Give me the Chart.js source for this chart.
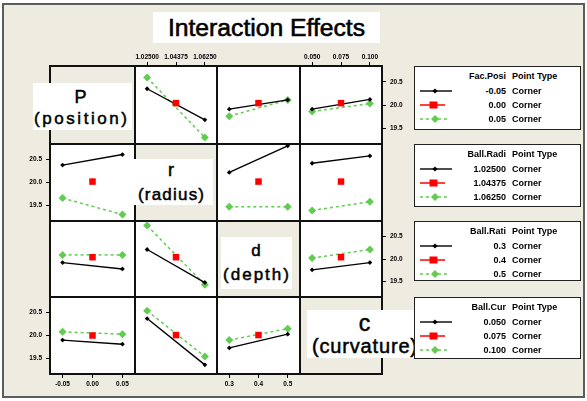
<!DOCTYPE html>
<html>
<head>
<meta charset="utf-8">
<script src="https://cdn.jsdelivr.net/npm/chart.js@4.4.0/dist/chart.umd.min.js"></script>
<style>
  html, body { margin: 0; padding: 0; background: #ffffff; }
  #page { position: relative; width: 587px; height: 401px; overflow: hidden; background: #ffffff; }
  .t { position: absolute; white-space: nowrap; color: #000; }
</style>
</head>
<body>
<div id="page"></div>
<script>
// ---- factor levels (x tick labels / legend entries) ----
const positionLevels  = ['-0.05', '0.00', '0.05'];
const radiusLevels    = ['1.02500', '1.04375', '1.06250'];
const depthLevels     = ['0.3', '0.4', '0.5'];
const curvatureLevels = ['0.050', '0.075', '0.100'];
const yTickValues     = [19.5, 20.0, 20.5];

// ---- mean responses; each row factor traced against column factors P, r, d, c ----
// [value at low level of x-factor, value at high level of x-factor]
const pLowTrace   = [null, [20.35, 19.68], [19.91, 20.11], [19.91, 20.12]];
const pHighTrace  = [null, [20.59, 19.30], [19.76, 20.11], [19.86, 20.03]];
const pCenter     = [null, 20.04, 20.04, 20.04];

const rLowTrace   = [[20.38, 20.61], null, [20.22, 20.80], [20.42, 20.58]];
const rHighTrace  = [[19.66, 19.30], null, [19.47, 19.47], [19.39, 19.58]];
const rCenter     = [20.02, null, 20.02, 20.02];

const dLowTrace   = [[19.92, 19.78], [20.21, 19.48], null, [19.76, 19.92]];
const dHighTrace  = [[20.09, 20.09], [20.74, 19.43], null, [20.02, 20.21]];
const dCenter     = [20.04, 20.04, null, 20.04];

const cLowTrace   = [[19.90, 19.81], [20.37, 19.36], [19.73, 20.03], null];
const cHighTrace  = [[20.08, 20.03], [20.54, 19.54], [19.90, 20.15], null];
const cCenter     = [20.00, 20.01, 20.01, null];

const legendTitles = ['Fac.Posi', 'Ball.Radi', 'Ball.Rati', 'Ball.Cur'];
const pointTypeTitle = 'Point Type';
const pointTypeName = 'Corner';

// ---- layout ----
const page = document.getElementById('page');
const BG = '#EEEBE1';
const BLACK = '#000000', RED = '#ff0000', GREEN = '#62cc52';
const SANS = '"Liberation Sans", Arial, sans-serif';
const colEdges = [50, 135, 217, 300, 382];
const rowEdges = [66, 144, 221, 297, 374];

const levelSets = [positionLevels, radiusLevels, depthLevels, curvatureLevels];
const rows = [
  { low: pLowTrace, high: pHighTrace, center: pCenter },
  { low: rLowTrace, high: rHighTrace, center: rCenter },
  { low: dLowTrace, high: dHighTrace, center: dCenter },
  { low: cLowTrace, high: cHighTrace, center: cCenter }
];

function box(x, y, w, h, style) {
  const d = document.createElement('div');
  d.style.cssText = `position:absolute;left:${x}px;top:${y}px;width:${w}px;height:${h}px;box-sizing:border-box;${style || ''}`;
  page.appendChild(d);
  return d;
}
const mctx = document.createElement('canvas').getContext('2d');
function textWidth(str, font) { mctx.font = font; return mctx.measureText(str).width; }
// place text by its baseline; optional fit stretches with letter spacing
function text(str, x, baseline, size, opts) {
  opts = opts || {};
  const weight = opts.weight || 'normal';
  const font = `${weight} ${size}px ${SANS}`;
  const w = textWidth(str, font);
  let ls = 0, width = w;
  if (opts.fit && str.length > 1) { ls = (opts.fit - w) / (str.length - 1); width = opts.fit; }
  let left = x;
  if (opts.align === 'center') left = x - width / 2;
  if (opts.align === 'right') left = x - width;
  const d = document.createElement('div');
  d.className = 't';
  d.textContent = str;
  d.style.cssText += `left:${left}px;top:${baseline - 0.8465 * size}px;font:${weight} ${size}px ${SANS};line-height:${size}px;letter-spacing:${ls}px;` +
    (opts.stroke ? `-webkit-text-stroke:${opts.stroke}px #000;` : '');
  page.appendChild(d);
  return d;
}

// outer frame
box(2, 3, 583, 395, `border:2px solid #5c5c5c;background:${BG};`);

// title
box(153, 12, 227, 31, 'background:#fff;');
text('Interaction Effects', 266.5, 36.7, 24.7, { align: 'center', stroke: 0.6 });

// panel backgrounds
for (let r = 0; r < 4; r++) for (let c = 0; c < 4; c++) {
  if (r === c) continue;
  box(colEdges[c], rowEdges[r], colEdges[c + 1] - colEdges[c], rowEdges[r + 1] - rowEdges[r], 'background:#fff;');
}
// matrix lines
colEdges.forEach(x => box(x - 1, rowEdges[0] - 1, 2, rowEdges[4] - rowEdges[0] + 2, 'background:#111;'));
rowEdges.forEach(y => box(colEdges[0] - 1, y - 1, colEdges[4] - colEdges[0] + 2, 2, 'background:#111;'));

// ---- interaction panels ----
const M = 40;
const TICK_FONT = { family: SANS, size: 6.5, weight: 'bold' };
for (let r = 0; r < 4; r++) {
  for (let c = 0; c < 4; c++) {
    if (r === c) continue;
    const L = colEdges[c], R = colEdges[c + 1], T = rowEdges[r], B = rowEdges[r + 1];
    const cv = document.createElement('canvas');
    const W = R - L + 2 * M, H = B - T + 2 * M;
    cv.width = W; cv.height = H;
    cv.style.cssText = `position:absolute;left:${L - M}px;top:${T - M}px;width:${W}px;height:${H}px;`;
    page.appendChild(cv);

    const xPos = r === 0 ? 'top' : 'bottom';
    const yPos = c === 3 ? 'right' : 'left';
    const showX = (r === 0 && (c === 1 || c === 3)) || (r === 3 && (c === 0 || c === 2));
    const showY = (c === 0 && (r === 1 || r === 3)) || (c === 3 && (r === 0 || r === 2));
    const levels = levelSets[c];
    const tr = rows[r];

    new Chart(cv, {
      type: 'line',
      data: {
        datasets: [
          { label: 'center', data: [{ x: 1, y: tr.center[c] }], showLine: false,
            pointStyle: 'rect', pointRadius: 4.6, backgroundColor: RED, borderColor: RED,
            pointBorderWidth: 0, order: 0 },
          { label: 'low', data: [{ x: 0, y: tr.low[c][0] }, { x: 2, y: tr.low[c][1] }],
            borderColor: BLACK, backgroundColor: BLACK, borderWidth: 1.4,
            pointStyle: 'rectRot', pointRadius: 2.4, pointBorderWidth: 0, order: 1 },
          { label: 'high', data: [{ x: 0, y: tr.high[c][0] }, { x: 2, y: tr.high[c][1] }],
            borderColor: GREEN, backgroundColor: GREEN, borderWidth: 1.5, borderDash: [3, 3],
            pointStyle: 'rectRot', pointRadius: 4, pointBorderWidth: 0, order: 2 }
        ]
      },
      options: {
        responsive: false, animation: false, devicePixelRatio: 1,
        clip: false,
        layout: { padding: {
          left: yPos === 'left' ? 0 : M, right: yPos === 'right' ? 0 : M,
          top: xPos === 'top' ? 0 : M, bottom: xPos === 'bottom' ? 0 : M } },
        plugins: { legend: { display: false }, tooltip: { enabled: false }, title: { display: false } },
        elements: { line: { tension: 0 } },
        scales: {
          x: {
            type: 'linear', position: xPos, min: -0.42, max: 2.42,
            afterFit: s => { s.height = M; },
            afterBuildTicks: s => { s.ticks = [0, 1, 2].map(v => ({ value: v })); },
            border: { display: false },
            grid: { display: showX, drawOnChartArea: false, drawTicks: true, tickLength: 4, color: '#000', lineWidth: 1 },
            ticks: { display: showX, color: '#000', font: TICK_FONT, padding: xPos === 'top' ? 1 : 2,
              maxRotation: 0, autoSkip: false, callback: v => levels[Math.round(v)] }
          },
          y: {
            type: 'linear', position: yPos, min: 19.16, max: 20.84,
            afterFit: s => { s.width = M; },
            afterBuildTicks: s => { s.ticks = yTickValues.map(v => ({ value: v })); },
            border: { display: false },
            grid: { display: showY, drawOnChartArea: false, drawTicks: true, tickLength: 4, color: '#000', lineWidth: 1 },
            ticks: { display: showY, color: '#000', font: TICK_FONT, padding: 4,
              callback: v => Number(v).toFixed(1) }
          }
        }
      }
    });
  }
}

// ---- diagonal factor labels ----
const diag = [
  { bx: 33, by: 83, bw: 99, bh: 47, l1: 'P', s1: 18, b1: 103, l2: '(position)', s2: 17, x2: 34, w2: 93, b2: 124.5 },
  { bx: 133, by: 159, bw: 80, bh: 46, l1: 'r', s1: 18, b1: 176.7, l2: '(radius)', s2: 17, x2: 138, w2: 66, b2: 200.5 },
  { bx: 221, by: 237, bw: 71, bh: 52, l1: 'd', s1: 17, b1: 256.7, l2: '(depth)', s2: 17, x2: 223, w2: 66, b2: 280 },
  { bx: 307, by: 310, bw: 115, bh: 48, l1: 'c', s1: 23, b1: 331, l2: '(curvature)', s2: 20, x2: 312, w2: 105, b2: 353 }
];
diag.forEach(d => {
  box(d.bx, d.by, d.bw, d.bh, 'background:#fff;');
  text(d.l1, d.x2 + d.w2 / 2, d.b1, d.s1, { align: 'center', stroke: 0.5 });
  text(d.l2, d.x2, d.b2, d.s2, { fit: d.w2, stroke: 0.5 });
});

// ---- legends ----
const legendTops = [66, 144, 221, 297];
const legendHeights = [64, 63, 60, 62];
const LX = 414, LW = 167;
const rowOffsets = [25, 39, 53];
legendTops.forEach((top, i) => {
  box(LX, top, LW, legendHeights[i], 'background:#fff;border:1.6px solid #222;');
  const f = 9;
  text(legendTitles[i], LX + 92, top + 13.5, f, { weight: 'bold', align: 'right' });
  text(pointTypeTitle, LX + 98, top + 13.5, f, { weight: 'bold' });
  const svgNS = 'http://www.w3.org/2000/svg';
  const svg = document.createElementNS(svgNS, 'svg');
  svg.setAttribute('width', 50); svg.setAttribute('height', legendHeights[i]);
  svg.style.cssText = `position:absolute;left:${LX}px;top:${top}px;`;
  const y0 = rowOffsets[0], y1 = rowOffsets[1], y2 = rowOffsets[2];
  svg.innerHTML =
    `<line x1="6" y1="${y0}" x2="38" y2="${y0}" stroke="${BLACK}" stroke-width="1.4"/>` +
    `<polygon points="21,${y0 - 2.6} 23.6,${y0} 21,${y0 + 2.6} 18.4,${y0}" fill="${BLACK}"/>` +
    `<line x1="6" y1="${y1}" x2="31" y2="${y1}" stroke="${RED}" stroke-width="1.5"/>` +
    `<rect x="15.5" y="${y1 - 3.5}" width="8" height="7" fill="${RED}"/>` +
    `<line x1="6" y1="${y2}" x2="34" y2="${y2}" stroke="${GREEN}" stroke-width="1.5" stroke-dasharray="3,3"/>` +
    `<polygon points="21,${y2 - 4} 25,${y2} 21,${y2 + 4} 17,${y2}" fill="${GREEN}"/>`;
  page.appendChild(svg);
  const lv = levelSets[i];
  rowOffsets.forEach((oy, k) => {
    text(lv[k], LX + 92, top + oy + 3.2, f, { weight: 'bold', align: 'right' });
    text(pointTypeName, LX + 98, top + oy + 3.2, f, { weight: 'bold' });
  });
});
</script>
</body>
</html>
